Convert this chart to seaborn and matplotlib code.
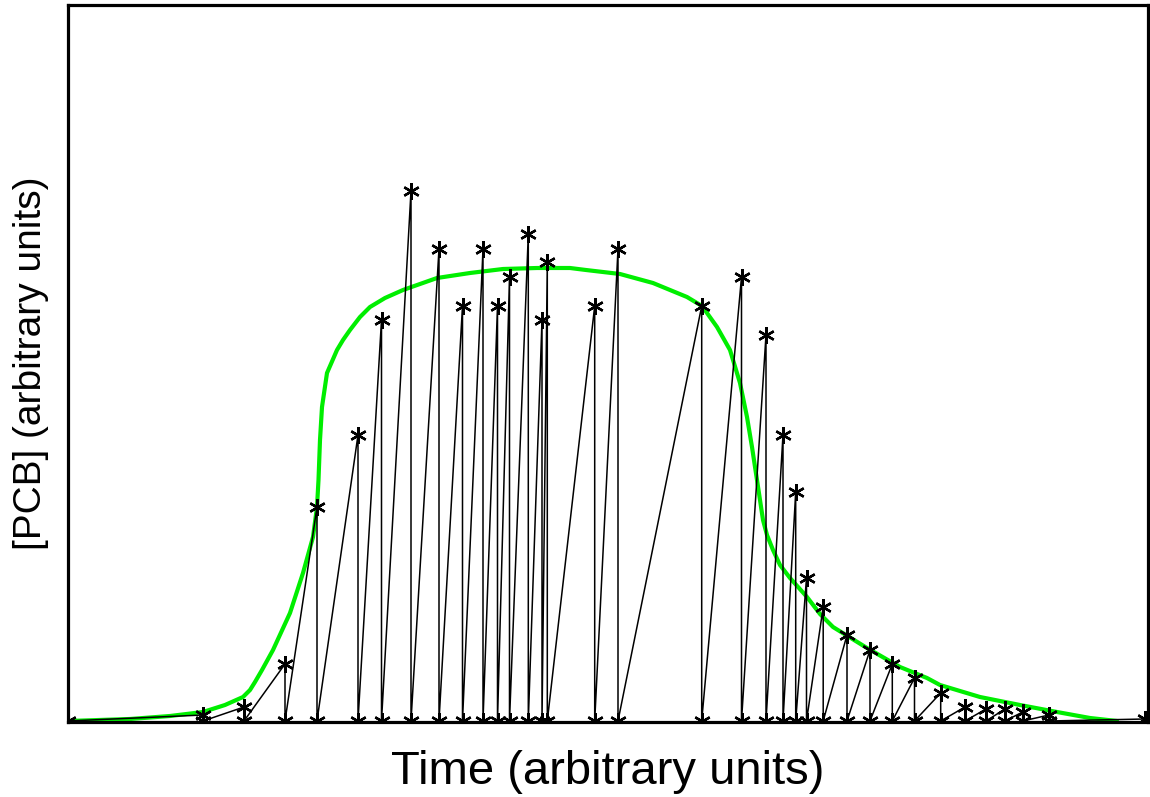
import numpy as np
import pandas as pd
import matplotlib
matplotlib.use("Agg")
import matplotlib.pyplot as plt
import seaborn as sns

# Sample times and peak concentrations (arbitrary units)
sample_times = [13.5, 17.6, 21.7, 24.9, 29.0, 31.35, 34.3, 37.1, 39.45, 41.5,
                42.95, 44.15, 46.03, 47.4, 47.93, 52.67, 55.0, 63.37, 67.35, 69.8,
                71.5, 72.77, 73.85, 75.52, 77.9, 80.2, 82.43, 84.65, 87.27, 89.7,
                91.8, 93.7, 95.47, 98.1]
peak_values = [0.06, 0.14, 0.57, 2.14, 2.86, 4.01, 5.30, 4.72, 4.15, 4.72,
               4.15, 4.44, 4.87, 4.01, 4.59, 4.15, 4.72, 4.15, 4.44, 3.86,
               2.86, 2.29, 1.43, 1.14, 0.86, 0.71, 0.57, 0.43, 0.28, 0.14,
               0.12, 0.12, 0.09, 0.06]
start_time, start_value = 0.0, 0.0
end_time, end_value = 107.7, 0.02

# Smooth envelope curve (green)
curve_t = [0.0, 6.2, 10.2, 13.5, 15.7, 17.5, 18.2, 18.7, 19.4, 20.5, 22.2, 23.5,
           24.5, 24.9, 25.05, 25.2, 25.4, 25.9, 26.9, 27.5, 28.2, 29.2, 30.2,
           31.7, 33.5, 36.9, 40.2, 43.5, 46.9, 50.2, 51.8, 55.2, 58.5, 61.9,
           63.4, 64.9, 66.2, 67.2, 67.9, 68.4, 68.9, 69.5, 69.9, 70.5, 71.2,
           72.2, 73.9, 75.2, 76.5, 79.9, 83.2, 85.9, 87.2, 91.2, 95.2, 98.9,
           102.2, 104.9]
curve_v = [0.0, 0.02, 0.05, 0.09, 0.16, 0.24, 0.31, 0.39, 0.51, 0.71, 1.08, 1.48,
           1.84, 2.14, 2.41, 2.81, 3.14, 3.48, 3.71, 3.81, 3.91, 4.04, 4.14,
           4.23, 4.31, 4.43, 4.48, 4.52, 4.53, 4.53, 4.51, 4.47, 4.38, 4.24,
           4.15, 3.94, 3.71, 3.38, 3.04, 2.74, 2.41, 2.01, 1.86, 1.71, 1.56,
           1.43, 1.24, 1.07, 0.94, 0.73, 0.54, 0.43, 0.36, 0.24, 0.16, 0.09,
           0.03, 0.0]

# Build zig-zag sequence: each sample rises to peak then drops to zero
zz_t = [start_time]
zz_v = [start_value]
for t, v in zip(sample_times, peak_values):
    zz_t += [t, t]
    zz_v += [v, 0.0]
zz_t.append(end_time)
zz_v.append(end_value)
zig = pd.DataFrame({"t": zz_t, "v": zz_v})
env = pd.DataFrame({"t": curve_t, "v": curve_v})

sns.set_theme(style="white")
plt.rcParams["font.family"] = ["Liberation Sans", "DejaVu Sans"]

fig = plt.figure(figsize=(11.5, 7.97), dpi=100)
ax = fig.add_axes([68 / 1150, 1 - 722 / 797, 1080 / 1150, 717 / 797])

sns.lineplot(data=zig, x="t", y="v", sort=False, estimator=None, ax=ax,
             color="black", linewidth=1.1, marker=(6, 2, 0), markersize=12,
             markeredgecolor="black", markeredgewidth=1.7, zorder=3)
sns.lineplot(data=env, x="t", y="v", sort=False, estimator=None, ax=ax,
             color="#00ee00", linewidth=3.0, zorder=2)

ax.set_xlim(0, 108)
ax.set_ylim(-0.01, 7.16)
ax.set_xticks([])
ax.set_yticks([])
for s in ax.spines.values():
    s.set_color("black")
    s.set_linewidth(2.3)
    s.set_visible(True)

ax.set_xlabel("Time (arbitrary units)", fontsize=34, labelpad=20, color="black")
ax.set_ylabel("[PCB] (arbitrary units)", fontsize=28, labelpad=14, color="black")

fig.savefig("out.png", dpi=100)
